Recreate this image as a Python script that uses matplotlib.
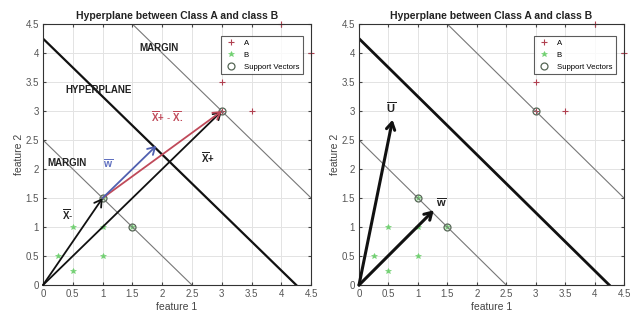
import numpy as np
import matplotlib.pyplot as plt

plt.rcParams['font.family'] = ['Liberation Sans', 'DejaVu Sans']
plt.rcParams['mathtext.fontset'] = 'custom'
plt.rcParams['mathtext.rm'] = 'Liberation Sans'
plt.rcParams['mathtext.bf'] = 'Liberation Sans:bold'

# class samples
a_x = [3, 3, 3.5, 4, 4.5]
a_y = [3.5, 3, 3, 4.5, 4]
b_x = [0.25, 0.5, 0.5, 1, 1, 1, 1.5]
b_y = [0.5, 0.25, 1, 0.5, 1, 1.5, 1]
sv_x = [1, 1.5, 3]
sv_y = [1.5, 1, 3]

# lines x + y = c
margin_low = 2.5
hyperplane = 4.25
margin_high = 6.0

# vectors (start, end)
x_minus = (0, 0, 1, 1.5)
x_plus = (0, 0, 3, 3)
x_diff = (1, 1.5, 3, 3)
w_left = (1, 1.5, 1.9, 2.4)
u_right = (0, 0, 0.57, 2.85)
w_right = (0, 0, 1.27, 1.29)

ticks = np.arange(0, 4.51, 0.5)
tick_labels = ['0', '0.5', '1', '1.5', '2', '2.5', '3', '3.5', '4', '4.5']


def line_pts(c):
    x = np.array([max(0, c - 4.5), min(4.5, c)])
    return x, c - x


def base_axes(ax):
    ax.set_xlim(0, 4.5)
    ax.set_ylim(0, 4.5)
    ax.set_xticks(ticks)
    ax.set_yticks(ticks)
    ax.set_xticklabels(tick_labels)
    ax.set_yticklabels(tick_labels)
    ax.grid(True, color='#e3e3e3', lw=0.7)
    ax.set_axisbelow(True)
    ax.tick_params(direction='in', length=2.5, labelsize=7, colors='#444444',
                   labelcolor='#555555', top=True, right=True, pad=3)
    for s in ax.spines.values():
        s.set_color('#333333')
        s.set_linewidth(0.8)
    ax.set_xlabel('feature 1', fontsize=7.5, color='#444444', labelpad=2)
    ax.set_ylabel('feature 2', fontsize=7.5, color='#444444', labelpad=1)
    ax.set_title('Hyperplane between Class A and class B', fontsize=7.5,
                 fontweight='bold', color='#222222', pad=4)
    ax.plot(a_x, a_y, '+', color='#b04050', ms=4.5, mew=0.8, label='A', clip_on=False)
    ax.plot(b_x, b_y, '*', color='#70d070', ms=4, mew=0.4, label='B', clip_on=False)
    ax.plot(sv_x, sv_y, 'o', mfc='none', mec='#556655', ms=5, mew=0.9,
            label='Support Vectors', clip_on=False)
    leg = ax.legend(loc='upper right', fontsize=5.6, frameon=True, fancybox=False,
                    edgecolor='#333333', borderpad=0.5, handletextpad=0.8,
                    handlelength=1.6, labelspacing=0.55, bbox_to_anchor=(0.985, 0.97))
    leg.get_frame().set_linewidth(0.8)


def arrow(ax, v, color, lw):
    ax.annotate('', xy=(v[2], v[3]), xytext=(v[0], v[1]),
                arrowprops=dict(arrowstyle='->,head_length=0.5,head_width=0.3',
                                color=color, lw=lw, shrinkA=0, shrinkB=0))


fig = plt.figure(figsize=(6.37, 3.21), dpi=100)
ax1 = fig.add_axes([0.0675, 0.112, 0.421, 0.813])
ax2 = fig.add_axes([0.5636, 0.112, 0.416, 0.813])

# left panel
base_axes(ax1)
for c, lw, col in [(margin_low, 0.8, '#777777'), (margin_high, 0.8, '#777777'),
                   (hyperplane, 1.6, '#111111')]:
    lx, ly = line_pts(c)
    ax1.plot(lx, ly, color=col, lw=lw, zorder=2)
arrow(ax1, x_minus, '#111111', 1.3)
arrow(ax1, x_plus, '#111111', 1.3)
arrow(ax1, x_diff, '#c04a5a', 1.3)
arrow(ax1, w_left, '#5060b0', 1.3)
bold = dict(fontsize=7, fontweight='bold', color='#222222', ha='center', va='center')
ax1.text(1.95, 4.09, 'MARGIN', **bold)
ax1.text(0.94, 3.36, 'HYPERPLANE', **bold)
ax1.text(0.4, 2.1, 'MARGIN', **bold)
ax1.text(1.1, 2.1, r'$\overline{\mathbf{w}}$', fontsize=7.5, color='#6070c0',
         ha='center', va='center')
ax1.text(2.77, 2.2, r'$\overline{\mathbf{X}}\mathbf{+}$', fontsize=7,
         color='#222222', ha='center', va='center')
ax1.text(0.42, 1.22, r'$\overline{\mathbf{X}}\mathbf{\text{-}}$', fontsize=7,
         color='#222222', ha='center', va='center')
ax1.text(2.08, 2.9, r'$\overline{\mathbf{X}}\mathbf{+}\ \mathbf{\text{-}}\ \overline{\mathbf{X}}\mathbf{.}$',
         fontsize=7, color='#c04a5a', ha='center', va='center')

# right panel
base_axes(ax2)
for c, lw, col in [(margin_low, 0.8, '#777777'), (margin_high, 0.8, '#777777'),
                   (hyperplane, 2.0, '#111111')]:
    lx, ly = line_pts(c)
    ax2.plot(lx, ly, color=col, lw=lw, zorder=2)
arrow(ax2, u_right, '#111111', 2.2)
arrow(ax2, w_right, '#111111', 2.2)
ax2.text(0.54, 3.05, r'$\overline{\mathbf{U}}$', fontsize=8, color='#222222',
         ha='center', va='center')
ax2.text(1.4, 1.42, r'$\overline{\mathbf{w}}$', fontsize=8, color='#222222',
         ha='center', va='center')

fig.savefig('out.png', dpi=100)
